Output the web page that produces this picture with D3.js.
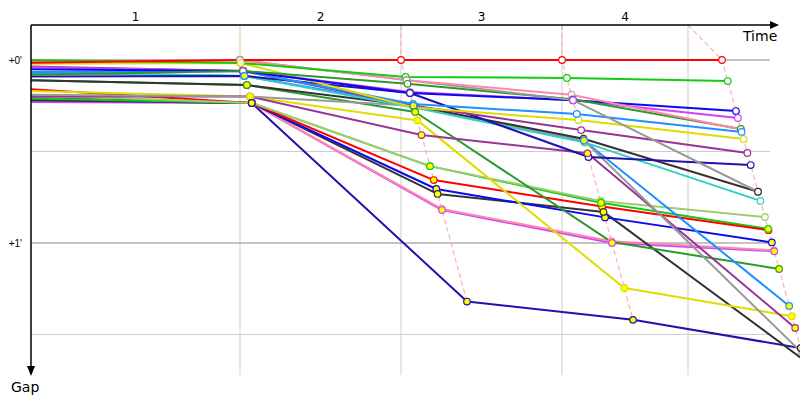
<!DOCTYPE html>
<html><head><meta charset="utf-8">
<script src="https://cdn.jsdelivr.net/npm/d3@7"></script>
<style>
html,body{margin:0;padding:0;background:#fff;}
svg{display:block;}
</style></head>
<body>
<script>
// ---- data ----
const lapLabels = ["1","2","3","4"];
const lapTicks = [4.18, 7.40, 10.62, 13.14];          // minutes (grid / lap label boundaries)
const leaderTimes = [0, 4.18, 7.40, 10.62, 13.82];     // leader crossing time per lap (minutes)
const gapTicks = [0, 0.5, 1, 1.5];
const gapTickLabels = ["+0'", "", "+1'", ""];
const riders = ["R01","R02","R03","R04","R05","R06","R07","R08","R09","R10","R11","R12","R13",
                "R14","R15","R16","R17","R18","R19","R20","R21","R22","R23","R24","R25","R26"];
const riderColors = ["#ff0000","#11cc11","#ff88aa","#999999","#2a9a2a","#0a0aee","#cc44ff","#dddd00",
  "#1e90ff","#993399","#2211aa","#33cccc","#333333","#999999","#1e90ff","#993399","#dddd00",
  "#2a9a2a","#a0cc70","#ff0000","#11cc11","#0a0aee","#333333","#ff88aa","#cc44ff","#2211aa"];
// gap to leader (minutes) at each lap
const gapLap0 = [0.015,0.0,0.01,0.005,0.08,0.05,0.04,0.02,0.065,0.035,0.09,0.065,0.11,0.19,0.07,0.2,0.17,0.11,0.19,0.16,0.21,0.21,0.22,0.2,0.23,0.22];
const gapLap1 = [0,0.016,0.0,0.0,0.06,0.06,0.06,0.016,0.06,0.06,0.087,0.087,0.137,0.2,0.087,0.2,0.2,0.137,0.235,0.235,0.235,0.235,0.235,0.235,0.235,0.235];
const gapLap2 = [0,0.093,0.11,0.11,0.13,0.18,0.175,0.26,0.24,0.25,0.18,0.26,0.25,0.25,0.25,0.41,0.33,0.284,0.58,0.656,0.58,0.705,0.732,0.814,0.82,1.32];
const gapLap3 = [0,0.098,0.19,0.219,0.215,0.22,0.22,0.328,0.295,0.383,0.53,0.45,0.43,0.44,0.44,0.51,1.246,0.995,0.77,0.80,0.78,0.86,0.83,0.99,1.0,1.42];
const gapLap4 = [0,0.115,0.38,0.72,0.377,0.279,0.317,0.432,0.393,0.508,0.574,0.77,0.72,1.6,1.344,1.464,1.40,1.142,0.858,0.93,0.923,0.997,1.64,1.04,1.045,1.574];
// 1 = time lost flag (marker highlighted) per lap
const flagLap1 = [0,0,0,0,0,0,0,0,0,0,1,1,1,1,1,1,1,1,1,1,1,1,1,1,1,1];
const flagLap2 = [0,0,0,0,0,0,0,1,0,1,0,1,1,1,1,1,1,1,1,1,1,1,1,1,1,1];
const flagLap3 = [0,0,0,0,0,0,0,0,0,0,0,1,1,1,1,1,1,1,1,1,1,1,1,1,1,1];
const flagLap4 = [0,0,0,0,0,0,0,0,0,0,0,0,0,1,1,1,1,1,0,1,1,1,1,1,1,1];

// ---- chart ----
const W = 800, H = 400;
const gaps = [gapLap0, gapLap1, gapLap2, gapLap3, gapLap4];
const flags = [null, flagLap1, flagLap2, flagLap3, flagLap4];
const x = d3.scaleLinear().domain([0, 15.38]).range([31, 800]);
const y = d3.scaleLinear().domain([0, 1]).range([60, 243]);
const yTop = 25, yBottom = 375, gridRight = 770;

const svg = d3.select("body").append("svg").attr("width", W).attr("height", H);

// grid
svg.append("g").selectAll("line").data(lapTicks).join("line")
  .attr("x1", d => x(d)).attr("x2", d => x(d)).attr("y1", yTop).attr("y2", yBottom)
  .attr("stroke", "#cccccc").attr("stroke-width", 1);
svg.append("g").selectAll("line").data(gapTicks).join("line")
  .attr("x1", x(0)).attr("x2", gridRight).attr("y1", d => y(d)).attr("y2", d => y(d))
  .attr("stroke", d => Number.isInteger(d) ? "#888888" : "#cccccc").attr("stroke-width", 1);

// data per rider
const series = riders.map((r, i) => ({
  id: r, color: riderColors[i],
  pts: gaps.map((g, k) => ({ lap: k, gap: g[i], t: k === 0 ? 0 : leaderTimes[k] + g[i], flag: k ? flags[k][i] : 0 }))
}));

// lap dashed lines
const dashG = svg.append("g");
for (let k = 1; k <= 4; k++) {
  const pts = series.map(s => s.pts[k]).sort((a, b) => a.gap - b.gap);
  const coords = [[x(lapTicks[k - 1]), yTop]].concat(pts.map(p => [x(p.t), y(p.gap)]));
  dashG.append("path").attr("d", d3.line()(coords))
    .attr("fill", "none").attr("stroke", k === 1 ? "#eeee99" : "#ffb0b0")
    .attr("stroke-width", 1.2).attr("stroke-dasharray", "5,3");
}

// lines
const line = d3.line().x(p => x(p.t)).y(p => y(p.gap));
svg.append("g").selectAll("path").data(series.slice().reverse()).join("path")
  .attr("d", s => line(s.pts)).attr("fill", "none")
  .attr("stroke", s => s.color).attr("stroke-width", 2).attr("stroke-linejoin", "round");

// points
const ptsData = series.flatMap(s => s.pts.filter(p => p.lap > 0).map(p => ({ ...p, color: s.color })));
svg.append("g").selectAll("circle").data(ptsData).join("circle")
  .attr("cx", p => x(p.t)).attr("cy", p => y(p.gap)).attr("r", 3.3)
  .attr("fill", p => p.flag ? "#ffff00" : "#ffffff")
  .attr("stroke", p => p.color).attr("stroke-width", 1.2);

// axes
const ax = svg.append("g").attr("stroke", "#000").attr("stroke-width", 1.5);
ax.append("line").attr("x1", x(0)).attr("x2", 770).attr("y1", yTop).attr("y2", yTop);
ax.append("line").attr("x1", x(0)).attr("x2", x(0)).attr("y1", yTop).attr("y2", 367);
svg.append("path").attr("d", `M770,${yTop - 4}L779,${yTop}L770,${yTop + 4}Z`).attr("fill", "#000");
svg.append("path").attr("d", `M${x(0) - 4},366L${x(0)},376L${x(0) + 4},366Z`).attr("fill", "#000");

const yAxis = svg.append("g").attr("transform", `translate(${x(0)},0)`)
  .call(d3.axisLeft(y).tickValues(gapTicks).tickFormat((d, i) => gapTickLabels[i]).tickSize(0).tickPadding(9));
yAxis.select(".domain").remove();
yAxis.selectAll("text").attr("font-family", "Liberation Sans, sans-serif").attr("font-size", 10).attr("fill", "#000");

const bounds = [0].concat(lapTicks);
svg.append("g").selectAll("text").data(lapLabels).join("text")
  .attr("x", (d, i) => (x(bounds[i]) + x(bounds[i + 1])) / 2).attr("y", 21)
  .attr("text-anchor", "middle").attr("font-family", "DejaVu Sans, sans-serif").attr("font-size", 12)
  .text(d => d);

svg.append("text").attr("x", 743).attr("y", 41).attr("font-family", "DejaVu Sans, sans-serif")
  .attr("font-size", 14).text("Time");
svg.append("text").attr("x", 11).attr("y", 392).attr("font-family", "DejaVu Sans, sans-serif")
  .attr("font-size", 14).text("Gap");
</script>
</body></html>
